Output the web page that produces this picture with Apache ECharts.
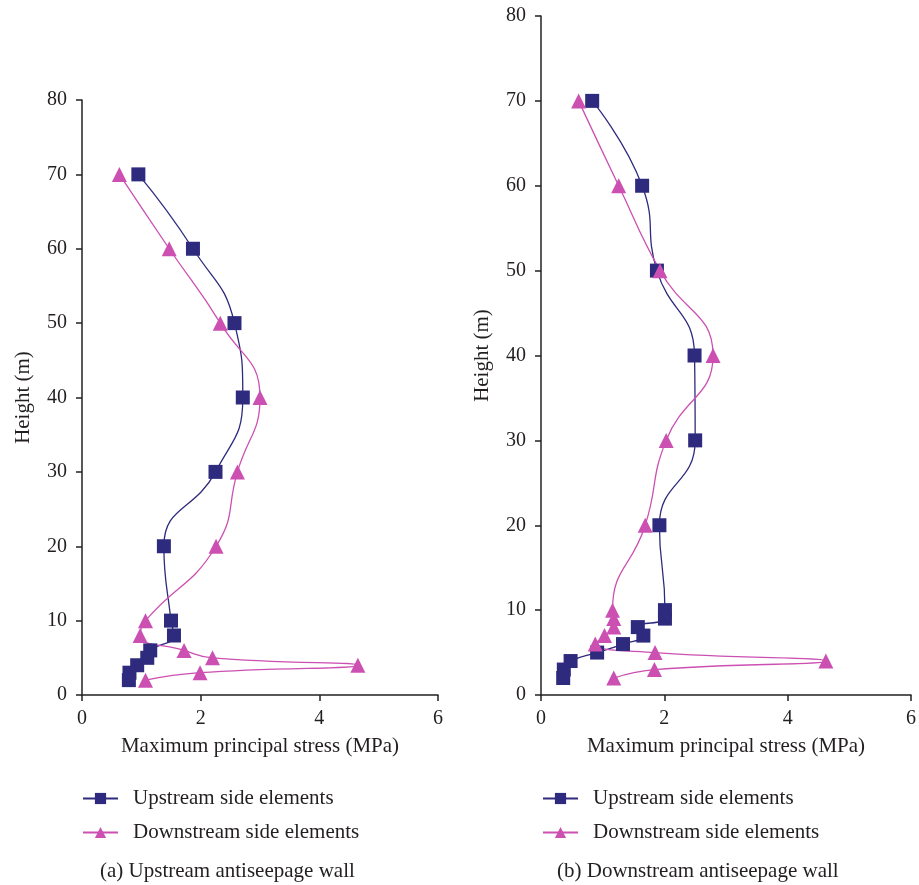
<!DOCTYPE html>
<html>
<head>
<meta charset="utf-8">
<script src="https://cdn.jsdelivr.net/npm/echarts@6/dist/echarts.min.js"></script>
<style>html,body{margin:0;padding:0;background:#fff}#c{width:919px;height:885px}</style>
</head>
<body>
<div id="c"></div>
<script>
// Heights (m)
const heightsA = [70, 60, 50, 40, 30, 20, 10, 8, 6, 5, 4, 3, 2];
const heightsB = [70, 60, 50, 40, 30, 20, 10, 9, 8, 7, 6, 5, 4, 3, 2];
// (a) Upstream antiseepage wall - stress (MPa)
const upA   = [0.95, 1.87, 2.57, 2.71, 2.25, 1.38, 1.50, 1.55, 1.15, 1.10, 0.93, 0.80, 0.79];
const downA = [0.63, 1.47, 2.33, 3.00, 2.62, 2.26, 1.07, 0.98, 1.72, 2.20, 4.65, 1.99, 1.07];
// (b) Downstream antiseepage wall - stress (MPa)
const upB   = [0.83, 1.64, 1.88, 2.49, 2.50, 1.92, 2.01, 2.01, 1.57, 1.66, 1.33, 0.91, 0.48, 0.37, 0.36];
const downB = [0.61, 1.26, 1.93, 2.79, 2.03, 1.69, 1.16, 1.18, 1.18, 1.03, 0.88, 1.85, 4.62, 1.84, 1.18];
const xTicks = [0, 2, 4, 6];
const yTicks = [0, 10, 20, 30, 40, 50, 60, 70, 80];
const nameUp = 'Upstream side elements';
const nameDown = 'Downstream side elements';

const FONT = 'Liberation Serif';
const TXT = '#231f20';
const UPC = '#2e2a7d';
const DNC = '#cc50b2';

function pairs(xs, ys) { return xs.map((v, i) => [v, ys[i]]); }

function xAx(idx) {
  return {
    gridIndex: idx, type: 'value', min: xTicks[0], max: xTicks[xTicks.length - 1], interval: 2,
    name: 'Maximum principal stress (MPa)', nameLocation: 'middle', nameGap: 41,
    nameTextStyle: { fontFamily: FONT, fontSize: 21, color: TXT },
    axisLine: { lineStyle: { color: '#222', width: 1.5 } },
    axisTick: { length: 6, lineStyle: { color: '#222', width: 1.5 } },
    axisLabel: { fontFamily: FONT, fontSize: 20, color: TXT, margin: 14 },
    splitLine: { show: false }
  };
}
function yAx(idx) {
  return {
    gridIndex: idx, type: 'value', min: yTicks[0], max: yTicks[yTicks.length - 1], interval: 10,
    name: 'Height (m)', nameLocation: 'middle', nameGap: 48, nameRotate: 90,
    nameTextStyle: { fontFamily: FONT, fontSize: 21, color: TXT },
    axisLine: { lineStyle: { color: '#222', width: 1.5 } },
    axisTick: { length: 6, lineStyle: { color: '#222', width: 1.5 } },
    axisLabel: { fontFamily: FONT, fontSize: 20, color: TXT, margin: 15 },
    splitLine: { show: false }
  };
}
function ser(name, data, idx, color, symbol) {
  return {
    name: name, type: 'line', xAxisIndex: idx, yAxisIndex: idx, data: data,
    smooth: 0.5, symbol: symbol, symbolSize: symbol === 'rect' ? 14 : 15,
    lineStyle: { color: color, width: 1.3 }, itemStyle: { color: color },
    animation: false
  };
}
function leg(left) {
  return {
    left: left, top: 788, padding: 0, orient: 'vertical', itemGap: 13, itemWidth: 35, itemHeight: 14,
    data: [nameUp, nameDown],
    textStyle: { fontFamily: FONT, fontSize: 21, color: TXT, padding: [0, 0, 0, 10] }
  };
}

const chart = echarts.init(document.getElementById('c'));
chart.setOption({
  animation: false,
  grid: [
    { left: 82, right: 481, top: 100, bottom: 190 },
    { left: 541, right: 8, top: 16, bottom: 190 }
  ],
  xAxis: [xAx(0), xAx(1)],
  yAxis: [yAx(0), yAx(1)],
  legend: [leg(82), leg(542)],
  title: [
    { text: '(a) Upstream antiseepage wall', left: 100, top: 861, padding: 0,
      textStyle: { fontFamily: FONT, fontSize: 21, fontWeight: 'normal', color: TXT } },
    { text: '(b) Downstream antiseepage wall', left: 557, top: 861, padding: 0,
      textStyle: { fontFamily: FONT, fontSize: 21, fontWeight: 'normal', color: TXT } }
  ],
  series: [
    ser(nameUp, pairs(upA, heightsA), 0, UPC, 'rect'),
    ser(nameDown, pairs(downA, heightsA), 0, DNC, 'triangle'),
    ser(nameUp, pairs(upB, heightsB), 1, UPC, 'rect'),
    ser(nameDown, pairs(downB, heightsB), 1, DNC, 'triangle')
  ]
});
</script>
</body>
</html>
